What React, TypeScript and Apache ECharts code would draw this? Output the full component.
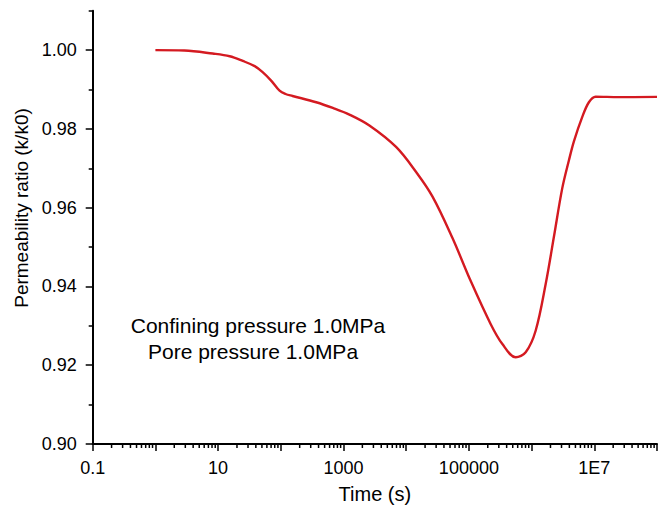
import React, { useEffect, useRef } from "react";
import * as echarts from "echarts";

// ---- data ----
const timeSeconds = [
  1, 2.9, 8.2, 15.3, 24.7, 38.3, 51.3, 71.3, 95.6, 119, 154, 367, 675, 1242,
  2588, 6890, 14300, 26300, 54700, 107000, 223000, 342000, 558000, 805000,
  1.16e6, 1.68e6, 2.28e6, 3.08e6, 3.94e6, 4.73e6, 6.41e6, 8.2e6, 1.05e7,
  2.46e7, 1e8,
];
const permeabilityRatio = [
  1.0, 0.9999, 0.99912, 0.99844, 0.99725, 0.99592, 0.9944, 0.99213, 0.98968,
  0.98885, 0.98835, 0.98676, 0.98532, 0.98363, 0.98086, 0.97541, 0.96911,
  0.9628, 0.95228, 0.94136, 0.93042, 0.92537, 0.92202, 0.92328, 0.92875,
  0.94068, 0.95279, 0.96489, 0.97203, 0.97684, 0.98298, 0.98676, 0.98817,
  0.98805, 0.98812,
];

// axis ticks / labels
const xLabelByExponent: Record<number, string> = {
  [-1]: "0.1",
  1: "10",
  3: "1000",
  5: "100000",
  7: "1E7",
};
const xDecades = [0.1, 1, 10, 100, 1000, 1e4, 1e5, 1e6, 1e7];
const xMinorMultipliers = [2, 3, 4, 5, 6, 7, 8, 9];
const yMajorTicks = [0.9, 0.92, 0.94, 0.96, 0.98, 1.0];
const yMinorTicks = [0.91, 0.93, 0.95, 0.97, 0.99, 1.01];

const annotationLines = ["Confining pressure 1.0MPa", "Pore pressure 1.0MPa"];

const FONT = '"Liberation Sans", Arial, Helvetica, sans-serif';

export default function App() {
  const ref = useRef<HTMLDivElement>(null);

  useEffect(() => {
    if (!ref.current) return;
    const chart = echarts.init(ref.current, undefined, { renderer: "svg" });

    const lineData = timeSeconds.map((t, i) => [t, permeabilityRatio[i]]);
    const minorTickData: number[][] = [];
    xDecades.forEach((d) =>
      xMinorMultipliers.forEach((m) => minorTickData.push([m * d, 0.9]))
    );

    const axisLine = { show: true, lineStyle: { color: "#000", width: 2 } };

    chart.setOption({
      animation: false,
      backgroundColor: "#fff",
      grid: { left: 92.7, right: 1.7, top: 10.7, bottom: 61.7, containLabel: false },
      xAxis: {
        type: "log",
        logBase: 10,
        min: 0.1,
        max: 1e8,
        name: "Time (s)",
        nameLocation: "middle",
        nameGap: 40,
        nameTextStyle: { fontFamily: FONT, fontSize: 20, color: "#000" },
        axisLine,
        axisTick: { show: true, inside: false, length: 7, lineStyle: { color: "#000", width: 1.5 } },
        minorTick: { show: false },
        splitLine: { show: false },
        axisLabel: {
          margin: 15,
          fontFamily: FONT,
          fontSize: 18,
          color: "#000",
          showMinLabel: true,
          showMaxLabel: true,
          formatter: (v: number) => {
            const e = Math.round(Math.log10(v));
            return xLabelByExponent[e] ?? "";
          },
        },
      },
      yAxis: [
        {
          type: "value",
          min: 0.9,
          max: 1.01,
          interval: 0.02,
          axisLine,
          axisTick: {
            show: true,
            length: 7,
            customValues: yMajorTicks,
            lineStyle: { color: "#000", width: 1.5 },
          },
          splitLine: { show: false },
          axisLabel: {
            margin: 16,
            fontFamily: FONT,
            fontSize: 18,
            color: "#000",
            customValues: yMajorTicks,
            formatter: (v: number) => v.toFixed(2),
          },
        },
        {
          type: "value",
          min: 0.9,
          max: 1.01,
          interval: 0.02,
          position: "left",
          axisLine: { show: false },
          axisTick: {
            show: true,
            length: 4,
            customValues: yMinorTicks,
            lineStyle: { color: "#000", width: 1.5 },
          },
          splitLine: { show: false },
          axisLabel: { show: false },
        },
      ],
      graphic: [
        {
          type: "text",
          x: 21,
          y: 208,
          rotation: Math.PI / 2,
          style: {
            text: "Permeability ratio (k/k0)",
            fontFamily: FONT,
            fontSize: 19,
            fill: "#000",
            align: "center",
            verticalAlign: "middle",
          },
        },
        {
          type: "text",
          x: 258,
          y: 325,
          style: {
            text: annotationLines[0],
            fontFamily: FONT,
            fontSize: 21,
            fill: "#000",
            align: "center",
            verticalAlign: "middle",
          },
        },
        {
          type: "text",
          x: 253,
          y: 351,
          style: {
            text: annotationLines[1],
            fontFamily: FONT,
            fontSize: 21,
            fill: "#000",
            align: "center",
            verticalAlign: "middle",
          },
        },
      ],
      series: [
        {
          type: "line",
          data: lineData,
          smooth: 0.35,
          showSymbol: false,
          symbol: "none",
          lineStyle: { color: "#d41a21", width: 2.4 },
          clip: true,
        },
        {
          type: "custom",
          data: minorTickData,
          silent: true,
          clip: false,
          renderItem: (_params: any, api: any) => {
            const p = api.coord([api.value(0), api.value(1)]);
            return {
              type: "line",
              shape: { x1: p[0], y1: p[1], x2: p[0], y2: p[1] + 4 },
              style: { stroke: "#000", lineWidth: 1.5 },
            };
          },
        },
      ],
    });

    return () => chart.dispose();
  }, []);

  return (
    <div
      ref={ref}
      style={{ position: "fixed", left: 0, top: 0, width: 660, height: 509 }}
    />
  );
}
